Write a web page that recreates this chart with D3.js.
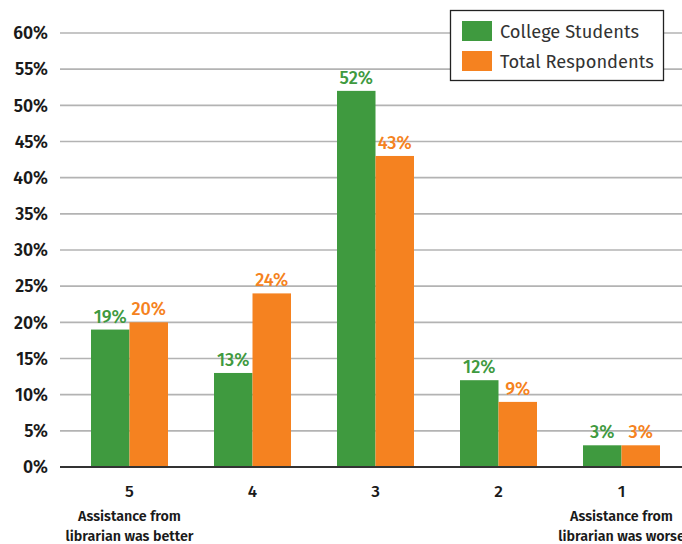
<!DOCTYPE html>
<html><head><meta charset="utf-8">
<script src="https://cdn.jsdelivr.net/npm/d3@7"></script>
<style>body{margin:0;background:#fff;} svg{display:block;font-family:"Fira Sans","Open Sans","Noto Sans",sans-serif;}</style>
</head><body>
<script>
const categories = ["5","4","3","2","1"];
const college = [19,13,52,12,3];
const total = [20,24,43,9,3];
const seriesNames = ["College Students","Total Respondents"];
const colors = ["#3f9a3f","#f58220"];
const yTicks = [0,5,10,15,20,25,30,35,40,45,50,55,60];
const subLabels = {"5":["Assistance from","librarian was better"],"1":["Assistance from","librarian was worse"]};

const W=682,H=544;
const svg=d3.select("body").append("svg").attr("width",W).attr("height",H);
const y=d3.scaleLinear().domain([0,60]).range([467,33]);
const x=d3.scaleBand().domain(categories).range([68,683]).paddingInner(0.374).paddingOuter(0.187);
const x1=d3.scaleBand().domain([0,1]).range([0,x.bandwidth()]);

// grid
svg.append("g").selectAll("line").data(yTicks.filter(d=>d>0)).join("line")
 .attr("x1",60).attr("x2",W).attr("y1",d=>y(d)).attr("y2",d=>y(d))
 .attr("stroke","#b3b3b3").attr("stroke-width",1.6);
// y labels
svg.append("g").selectAll("text").data(yTicks).join("text")
 .attr("x",48).attr("y",d=>y(d)).attr("dy","0.36em").attr("text-anchor","end")
 .attr("font-size",17.5).attr("font-weight",600).attr("fill","#1a1a1a").text(d=>d+"%");

const data=[college,total];
data.forEach((vals,si)=>{
  const g=svg.append("g");
  g.selectAll("rect").data(categories).join("rect")
   .attr("x",(c)=>x(c)+x1(si)).attr("width",x1.bandwidth())
   .attr("y",(c,i)=>y(vals[i])).attr("height",(c,i)=>y(0)-y(vals[i]))
   .attr("fill",colors[si]);
  g.selectAll("text").data(categories).join("text")
   .attr("x",(c)=>x(c)+x1(si)+x1.bandwidth()/2).attr("y",(c,i)=>y(vals[i])-7)
   .attr("text-anchor","middle").attr("font-size",18).attr("font-weight",500)
   .attr("fill",colors[si]).text((c,i)=>vals[i]+"%");
});
// baseline
svg.append("line").attr("x1",60).attr("x2",W).attr("y1",y(0)).attr("y2",y(0)).attr("stroke","#333").attr("stroke-width",2);
// x labels
const xl=svg.append("g");
categories.forEach(c=>{
  const cx=x(c)+x.bandwidth()/2;
  xl.append("text").attr("x",cx).attr("y",497).attr("text-anchor","middle").attr("font-size",17).attr("font-weight",500).attr("fill","#1a1a1a").text(c);
  if(subLabels[c]){
    subLabels[c].forEach((t,k)=>xl.append("text").attr("x",cx).attr("y",521+k*20).attr("text-anchor","middle").attr("font-size",14.3).attr("font-weight",600).attr("fill","#1a1a1a").text(t));
  }
});
// legend
const lg=svg.append("g");
lg.append("rect").attr("x",450.5).attr("y",10.5).attr("width",213).attr("height",70).attr("fill","#fff").attr("stroke","#222").attr("stroke-width",1.3);
seriesNames.forEach((n,i)=>{
  lg.append("rect").attr("x",462).attr("y",21+i*30).attr("width",30).attr("height",20).attr("fill",colors[i]);
  lg.append("text").attr("x",500).attr("y",31+i*30).attr("dy","0.36em").attr("font-size",18.3).attr("fill","#333").text(n);
});
</script>
</body></html>
